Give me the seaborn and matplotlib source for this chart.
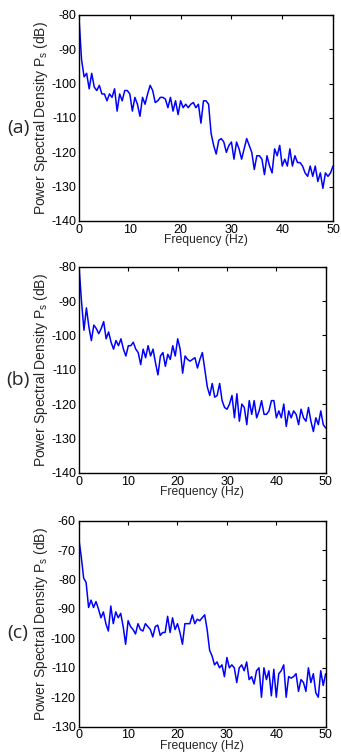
import numpy as np
import pandas as pd
import matplotlib
matplotlib.use('Agg')
import matplotlib.pyplot as plt
import seaborn as sns

# frequency grid (Hz), 0.5 Hz steps
freq = np.arange(0, 50.01, 0.5)

psd_a = [-81, -93, -98, -97, -101.5, -97, -101, -102, -100.5, -103,
         -103, -105, -103, -104, -101.5, -108, -103, -105, -102, -102,
         -103, -108, -104, -106, -109.5, -104, -106, -103, -100.5, -102,
         -105.5, -105, -104, -104, -104.5, -107, -104, -108, -105, -109,
         -105, -107, -106, -107, -106, -105.5, -107, -106, -111.5, -105,
         -105, -106, -114.5, -118, -120.5, -116.5, -116, -117, -120, -118,
         -117, -122, -117, -119, -122, -119, -116, -118, -120, -125,
         -121, -121, -122, -126.5, -121, -124, -126, -119, -121, -118,
         -124, -122, -124, -119, -124, -121, -123, -123, -124, -126,
         -127, -124, -127, -124, -128.5, -126, -130.5, -126, -127, -126,
         -124]

psd_b = [-80, -90, -98.5, -92, -97.5, -101.5, -97, -98, -99.5, -98,
         -96, -101, -99, -102, -104, -101.5, -103, -101, -104, -106,
         -103, -103, -102, -104, -105, -108.5, -104, -106.5, -103, -106,
         -104, -108, -111.5, -106, -105, -109, -105.5, -107, -103, -106,
         -101, -104, -111, -106, -107, -107.5, -107, -106.5, -109.5, -107,
         -105, -110, -115, -117.5, -114, -118, -117.5, -114, -119, -121,
         -121.5, -120, -117.5, -124, -117, -125, -120, -121, -126, -119,
         -123, -119, -124, -122, -119, -123, -123, -122, -119, -119,
         -124, -122, -124, -120, -126.5, -122, -124, -122, -123, -126,
         -121.5, -124, -125, -121, -125, -128, -124, -126, -122, -126,
         -127]

psd_c = [-66, -72, -79.5, -81, -89.5, -87, -89.5, -87.5, -90, -93,
         -91, -95, -97.5, -89, -95, -91, -93, -91.5, -96, -102,
         -94, -96, -97, -98.5, -95, -97, -97.5, -95, -96, -97,
         -99.5, -96, -95.5, -99, -98, -98, -92.5, -98, -93, -97,
         -95, -98, -102, -95, -95, -95, -92, -95, -93.5, -94,
         -93, -92, -97, -104, -106, -109, -108, -110, -109, -113,
         -106.5, -110, -109, -110, -115, -110, -109, -111, -108, -114,
         -113, -115.5, -111, -110, -120, -110, -114, -111, -119.5, -110.5,
         -120, -112, -111, -109, -120, -113, -113.5, -113, -112, -118,
         -114, -115, -118, -110, -115, -112, -118.5, -120, -111, -116,
         -112]

panels = ['(a)', '(b)', '(c)']
ylims = [(-140, -80), (-140, -80), (-130, -60)]
yticks = [np.arange(-140, -79, 10), np.arange(-140, -79, 10), np.arange(-130, -59, 10)]
xticks = [0, 10, 20, 30, 40, 50]

sns.set_style('white')
plt.rcParams['font.family'] = ['Liberation Sans', 'DejaVu Sans']
plt.rcParams['axes.unicode_minus'] = False
plt.rcParams['mathtext.fontset'] = 'custom'
plt.rcParams['mathtext.rm'] = 'Liberation Sans'
plt.rcParams['mathtext.it'] = 'Liberation Sans'

fig = plt.figure(figsize=(3.41, 7.56), dpi=100)
# axes boxes in figure fractions [left, bottom, width, height]
boxes = [[0.2317, 0.7077, 0.7450, 0.2725],
         [0.2317, 0.3747, 0.7235, 0.2725],
         [0.2308, 0.0388, 0.7243, 0.2725]]
label_y = [128, 380, 633]

for i, data in enumerate([psd_a, psd_b, psd_c]):
    ax = fig.add_axes(boxes[i])
    df = pd.DataFrame({'f': freq, 'p': data})
    sns.lineplot(data=df, x='f', y='p', ax=ax, color='#0000ff', linewidth=1.1)
    ax.set_xlim(0, 50)
    ax.set_ylim(*ylims[i])
    ax.set_xticks(xticks)
    ax.set_yticks(yticks[i])
    ax.tick_params(direction='in', length=3, width=0.8, labelsize=9, pad=2,
                   top=True, right=True, colors='black')
    for s in ax.spines.values():
        s.set_color('black')
        s.set_linewidth(1.0)
    ax.set_xlabel('Frequency (Hz)', fontsize=8.7, labelpad=-1)
    ax.set_ylabel('Power Spectral Density P$_{\\rm s}$ (dB)', fontsize=10, labelpad=1)
    fig.text(18 / 341, 1 - label_y[i] / 756, panels[i], fontsize=14,
             ha='center', va='center', family=['Open Sans', 'DejaVu Sans'])

fig.savefig('out.png', dpi=100, facecolor='white')
